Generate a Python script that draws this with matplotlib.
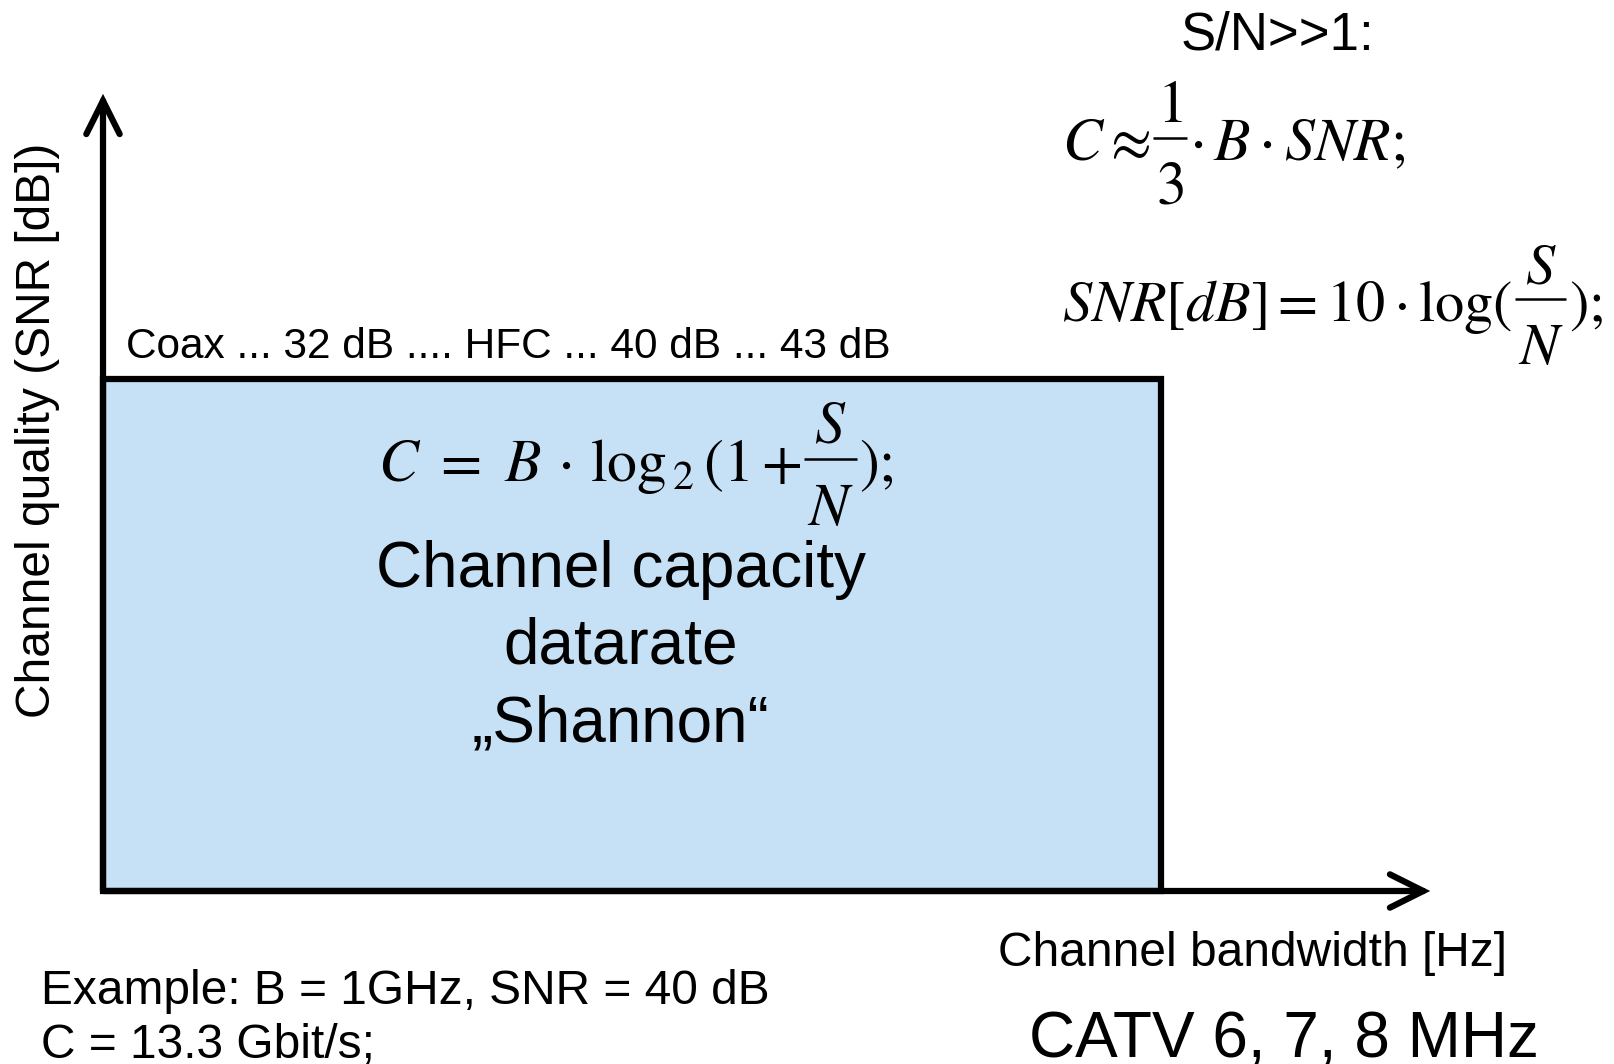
import matplotlib
matplotlib.use("Agg")
import matplotlib.pyplot as plt
from matplotlib.patches import Rectangle, FancyArrowPatch

plt.rcParams['font.family'] = ['Liberation Sans', 'DejaVu Sans']
plt.rcParams['mathtext.fontset'] = 'stix'

# diagram texts
y_label = "Channel quality (SNR [dB])"
x_label = "Channel bandwidth [Hz]"
snr_levels = ["Coax", "32 dB", "HFC", "40 dB", "43 dB"]
snr_seps = [" ... ", " .... ", " ... ", " ... "]
box_lines = ["Channel capacity", "datarate", "\u201eShannon\u201c"]
cond = "S/N>>1:"
# formulas as pieces; a tuple is a full-size fraction (numerator, denominator)
shannon = [r"$C\ =\ B\,\cdot\,\log_{\,2}(1+$", (r"$S$", r"$N$"), r"$);$"]
approx = [r"$C \approx\,$", (r"$1$", r"$3$"), r"$\cdot\,B \cdot SNR;$"]
snr_db = [r"$SNR[dB] = 10 \cdot \log($", (r"$S$", r"$N$"), r"$);$"]
example = ["Example: B = 1GHz, SNR = 40 dB", "C = 13.3 Gbit/s;"]
catv = "CATV 6, 7, 8 MHz"

fig = plt.figure(figsize=(16.14, 10.64), dpi=100)
ax = fig.add_axes([0, 0, 1, 1])
ax.set_xlim(0, 1614)
ax.set_ylim(1064, 0)
ax.axis('off')
renderer = fig.canvas.get_renderer()


def draw_formula(x, base, parts, size, ha='left'):
    em = size * 100 / 72
    line_y = base - 0.37 * em
    arts = []
    pos = 0.0
    for part in parts:
        if isinstance(part, str):
            t = ax.text(0, base, part, fontsize=size, va='baseline', ha='left')
            w = t.get_window_extent(renderer).width
            arts.append(('t', t, pos, w))
            pos += w
        else:
            tn = ax.text(0, line_y - 0.27 * em, part[0], fontsize=size,
                         ha='center', va='baseline')
            td = ax.text(0, line_y + 1.1 * em, part[1], fontsize=size,
                         ha='center', va='baseline')
            w = max(tn.get_window_extent(renderer).width,
                    td.get_window_extent(renderer).width) + 0.18 * em
            arts.append(('f', (tn, td), pos, w))
            pos += w
    x0 = x - pos / 2 if ha == 'center' else x
    for kind, a, p, w in arts:
        if kind == 't':
            a.set_x(x0 + p)
        else:
            a[0].set_x(x0 + p + w / 2)
            a[1].set_x(x0 + p + w / 2)
            ax.plot([x0 + p + 0.04 * em, x0 + p + w - 0.04 * em],
                    [line_y, line_y], color='black', lw=1.8,
                    solid_capstyle='butt')


# capacity box
ax.add_patch(Rectangle((103, 379), 1058, 512, facecolor='#c6e0f5',
                       edgecolor='black', linewidth=4.5, zorder=2))

# axes arrows
for start, end in [((103, 893), (103, 91)), ((101, 891), (1433, 891))]:
    ax.add_patch(FancyArrowPatch(start, end,
                                 arrowstyle='->,head_length=1.2,head_width=0.6',
                                 mutation_scale=20, linewidth=4.5,
                                 color='black', capstyle='round',
                                 joinstyle='miter', zorder=3))

# SNR levels over the box
label = snr_levels[0]
for sep, lvl in zip(snr_seps, snr_levels[1:]):
    label += sep + lvl
ax.text(126, 358, label, fontsize=30.5, ha='left', va='baseline')

ax.text(38, 430, y_label, fontsize=34.5, rotation=90, ha='center', va='center')

draw_formula(636, 481, shannon, 43, ha='center')
for i, line in enumerate(box_lines):
    ax.text(621, 587 + i * 77, line, fontsize=46, ha='center', va='baseline')

ax.text(1277, 36, cond, fontsize=38, ha='center', va='center')
draw_formula(1062, 160, approx, 43)
draw_formula(1062, 321, snr_db, 42)

ax.text(1253, 966, x_label, fontsize=34.5, ha='center', va='baseline')
ax.text(1284, 1058, catv, fontsize=46, ha='center', va='baseline')

for i, line in enumerate(example):
    ax.text(41, 1004 + i * 54, line, fontsize=34.5, ha='left', va='baseline')

fig.savefig("out.png", dpi=100)
